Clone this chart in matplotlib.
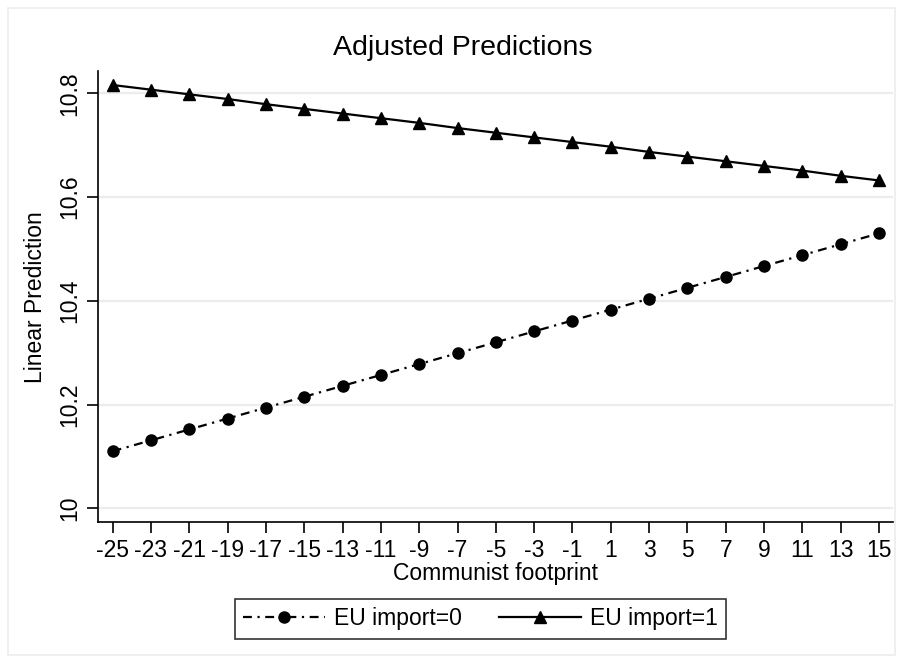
import matplotlib.pyplot as plt
from matplotlib.patches import Rectangle

plt.rcParams['font.family'] = ['Liberation Sans', 'DejaVu Sans']

# Communist footprint values and predictions
footprint = [-25, -23, -21, -19, -17, -15, -13, -11, -9, -7, -5,
             -3, -1, 1, 3, 5, 7, 9, 11, 13, 15]
pred_import0 = [10.110, 10.131, 10.152, 10.173, 10.194, 10.215, 10.236,
                10.257, 10.278, 10.299, 10.320, 10.341, 10.362, 10.383,
                10.404, 10.425, 10.446, 10.467, 10.488, 10.509, 10.530]
pred_import1 = [10.816, 10.807, 10.798, 10.789, 10.779, 10.770, 10.761,
                10.752, 10.743, 10.733, 10.724, 10.715, 10.706, 10.697,
                10.687, 10.678, 10.669, 10.660, 10.651, 10.641, 10.632]
yticks = [10, 10.2, 10.4, 10.6, 10.8]
ytick_labels = ['10', '10.2', '10.4', '10.6', '10.8']

W, H = 903, 663
fig = plt.figure(figsize=(W / 100, H / 100), dpi=100)
fig.patches.append(Rectangle((8 / W, 8 / H), 887 / W, 647 / H, transform=fig.transFigure,
                             fill=False, edgecolor='#ececec', lw=1.2))

ax = fig.add_axes([97.7 / W, 1 - 522.3 / H, (893 - 97.7) / W, (522.3 - 71) / H])
ax.plot(footprint, pred_import0, color='black', lw=1.6, linestyle=(0, (4, 2.5, 1, 2.5)),
        marker='o', markersize=8, label='EU import=0')
ax.plot(footprint, pred_import1, color='black', lw=1.6, linestyle='-',
        marker='^', markersize=9, label='EU import=1')

ax.set_xlim(-25.78, 15.73)
ax.set_ylim(9.973, 10.843)
ax.set_xticks(footprint)
ax.set_xticklabels([str(v) for v in footprint], fontsize=16.5)
ax.set_yticks(yticks)
ax.set_yticklabels(ytick_labels, fontsize=16.5, rotation=90, va='center')
ax.tick_params(axis='both', length=8, width=1.2, color='black', pad=4)

ax.grid(True, axis='y', color='#ececec', lw=1.6)
ax.set_axisbelow(True)
for s in ['top', 'right']:
    ax.spines[s].set_visible(False)
for s in ['left', 'bottom']:
    ax.spines[s].set_linewidth(1.2)

ax.set_xlabel('Communist footprint', fontsize=16.5, labelpad=0)
ax.set_ylabel('Linear Prediction', fontsize=16.5, labelpad=8)
fig.text(463 / W, 1 - 48 / H, 'Adjusted Predictions', fontsize=20.5, ha='center', va='center')

leg = fig.legend(loc='center', bbox_to_anchor=(480.5 / W, 1 - 619 / H), ncol=2,
                 fontsize=16.5, frameon=True, fancybox=False, handlelength=3.6,
                 columnspacing=1.6, handletextpad=0.4, borderpad=0.35, borderaxespad=0)
leg.get_frame().set_edgecolor('black')
leg.get_frame().set_linewidth(1.2)

plt.savefig('out.png', dpi=100)
plt.close()
